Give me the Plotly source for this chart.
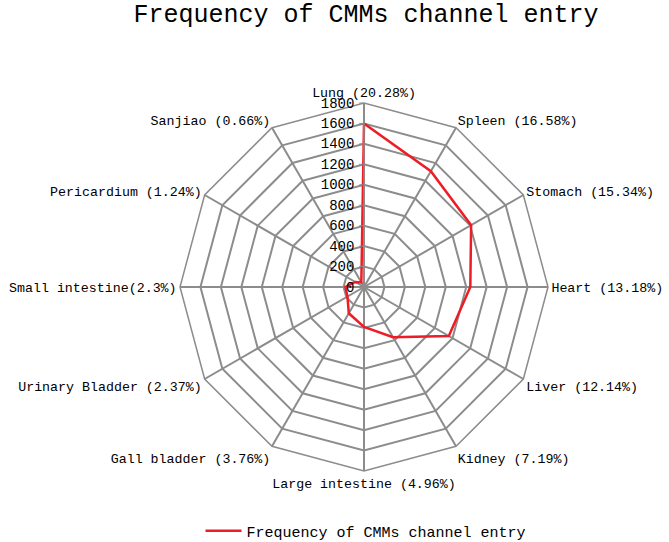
import plotly.graph_objects as go

categories = ["Lung (20.28%)", "Spleen (16.58%)", "Stomach (15.34%)", "Heart (13.18%)",
              "Liver (12.14%)", "Kidney (7.19%)", "Large intestine (4.96%)", "Gall bladder (3.76%)",
              "Urinary Bladder (2.37%)", "Small intestine(2.3%)", "Pericardium (1.24%)", "Sanjiao (0.66%)"]
values = [1600, 1308, 1210, 1040, 958, 567, 391, 297, 187, 181, 98, 52]
radial_ticks = [0, 200, 400, 600, 800, 1000, 1200, 1400, 1600, 1800]
series_name = "Frequency of CMMs channel entry"

FONT = "Liberation Mono"
GRID = "#8c8c8c"

fig = go.Figure()
fig.add_trace(go.Scatterpolar(
    r=values + values[:1],
    theta=categories + categories[:1],
    mode="lines",
    line=dict(color="#ee1c25", width=2.5),
    name=series_name,
))

W, H = 669, 542
cx, cy, R = 364, 287, 184
fig.update_layout(
    width=W, height=H,
    margin=dict(l=0, r=0, t=0, b=0, autoexpand=False),
    paper_bgcolor="white",
    plot_bgcolor="white",
    font=dict(family=FONT, color="black", size=14),
    title=dict(text=series_name, x=366 / W, xanchor="center", y=1 - 13 / H, yanchor="middle",
               font=dict(family=FONT, size=25, color="black")),
    showlegend=True,
    legend=dict(orientation="h", x=366 / W, xanchor="center", y=(H - 531) / H, yanchor="middle",
                itemwidth=36, font=dict(family=FONT, size=15, color="black")),
    polar=dict(
        domain=dict(x=[(cx - R) / W, (cx + R) / W], y=[(H - cy - R) / H, (H - cy + R) / H]),
        bgcolor="white",
        gridshape="linear",
        radialaxis=dict(
            range=[0, 1800], tickvals=radial_ticks, ticktext=[str(v) for v in radial_ticks],
            angle=90, side="counterclockwise", tickangle=90,
            showline=True, linecolor=GRID, linewidth=1.5,
            gridcolor=GRID, gridwidth=1.5,
            ticks="outside", ticklen=4, tickcolor=GRID,
            tickfont=dict(family=FONT, size=14, color="black"),
        ),
        angularaxis=dict(
            direction="clockwise", rotation=90,
            showline=True, linecolor=GRID, linewidth=1.5,
            gridcolor=GRID, gridwidth=1.5,
            ticks="", tickfont=dict(family=FONT, size=13.3, color="black"),
        ),
    ),
)

fig.write_html("out.html", config={"displayModeBar": False},
               post_script="document.body.style.margin='0';")
